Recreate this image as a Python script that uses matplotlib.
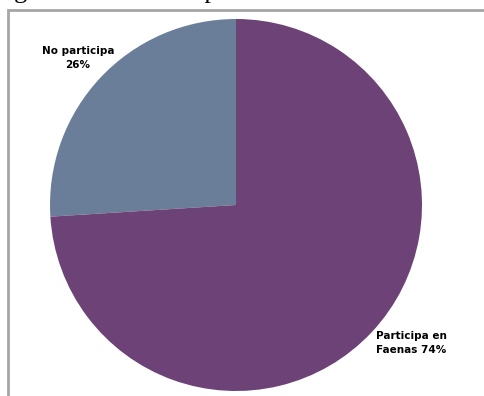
import matplotlib.pyplot as plt
from matplotlib.patches import Rectangle

# participation shares
labels = ["No participa\n26%", "Participa en\nFaenas 74%"]
shares = [26, 74]
colors = ["#6a7e9a", "#6c4277"]

W, H = 485, 396
fig = plt.figure(figsize=(W / 100, H / 100), dpi=100)

def fx(px):
    return px / W

def fy(py):
    return 1 - py / H

# frame around the chart (right/bottom sides fall outside the image)
fig.patches.append(Rectangle((fx(8), fy(600)), fx(700), 590 / H,
                             transform=fig.transFigure, fill=False,
                             edgecolor="#a6a6a6", linewidth=2))

# caption sitting above the frame, mostly cropped off
fig.text(fx(-8), fy(-2), "Figura 12. Nivel de presencia en faenas", fontsize=19,
         family="Liberation Serif", ha="left", va="baseline")

# pie: centre (236, 205), radius 186 px
cx, cy, r = 236, 205, 186
ax = fig.add_axes([fx(cx - r), fy(cy + r), 2 * r / W, 2 * r / H])
ax.pie(shares, colors=colors, startangle=90, counterclock=True,
       wedgeprops=dict(linewidth=0))
ax.set_xlim(-1, 1)
ax.set_ylim(-1, 1)
ax.set_aspect("auto")
ax.axis("off")

fig.text(fx(78), fy(58), labels[0], fontsize=7.5, fontweight="bold",
         family="DejaVu Sans", ha="center", va="center", linespacing=1.5)
fig.text(fx(376), fy(343), labels[1], fontsize=7.5, fontweight="bold",
         family="DejaVu Sans", ha="left", va="center", linespacing=1.5)

fig.savefig("out.png", dpi=100)
